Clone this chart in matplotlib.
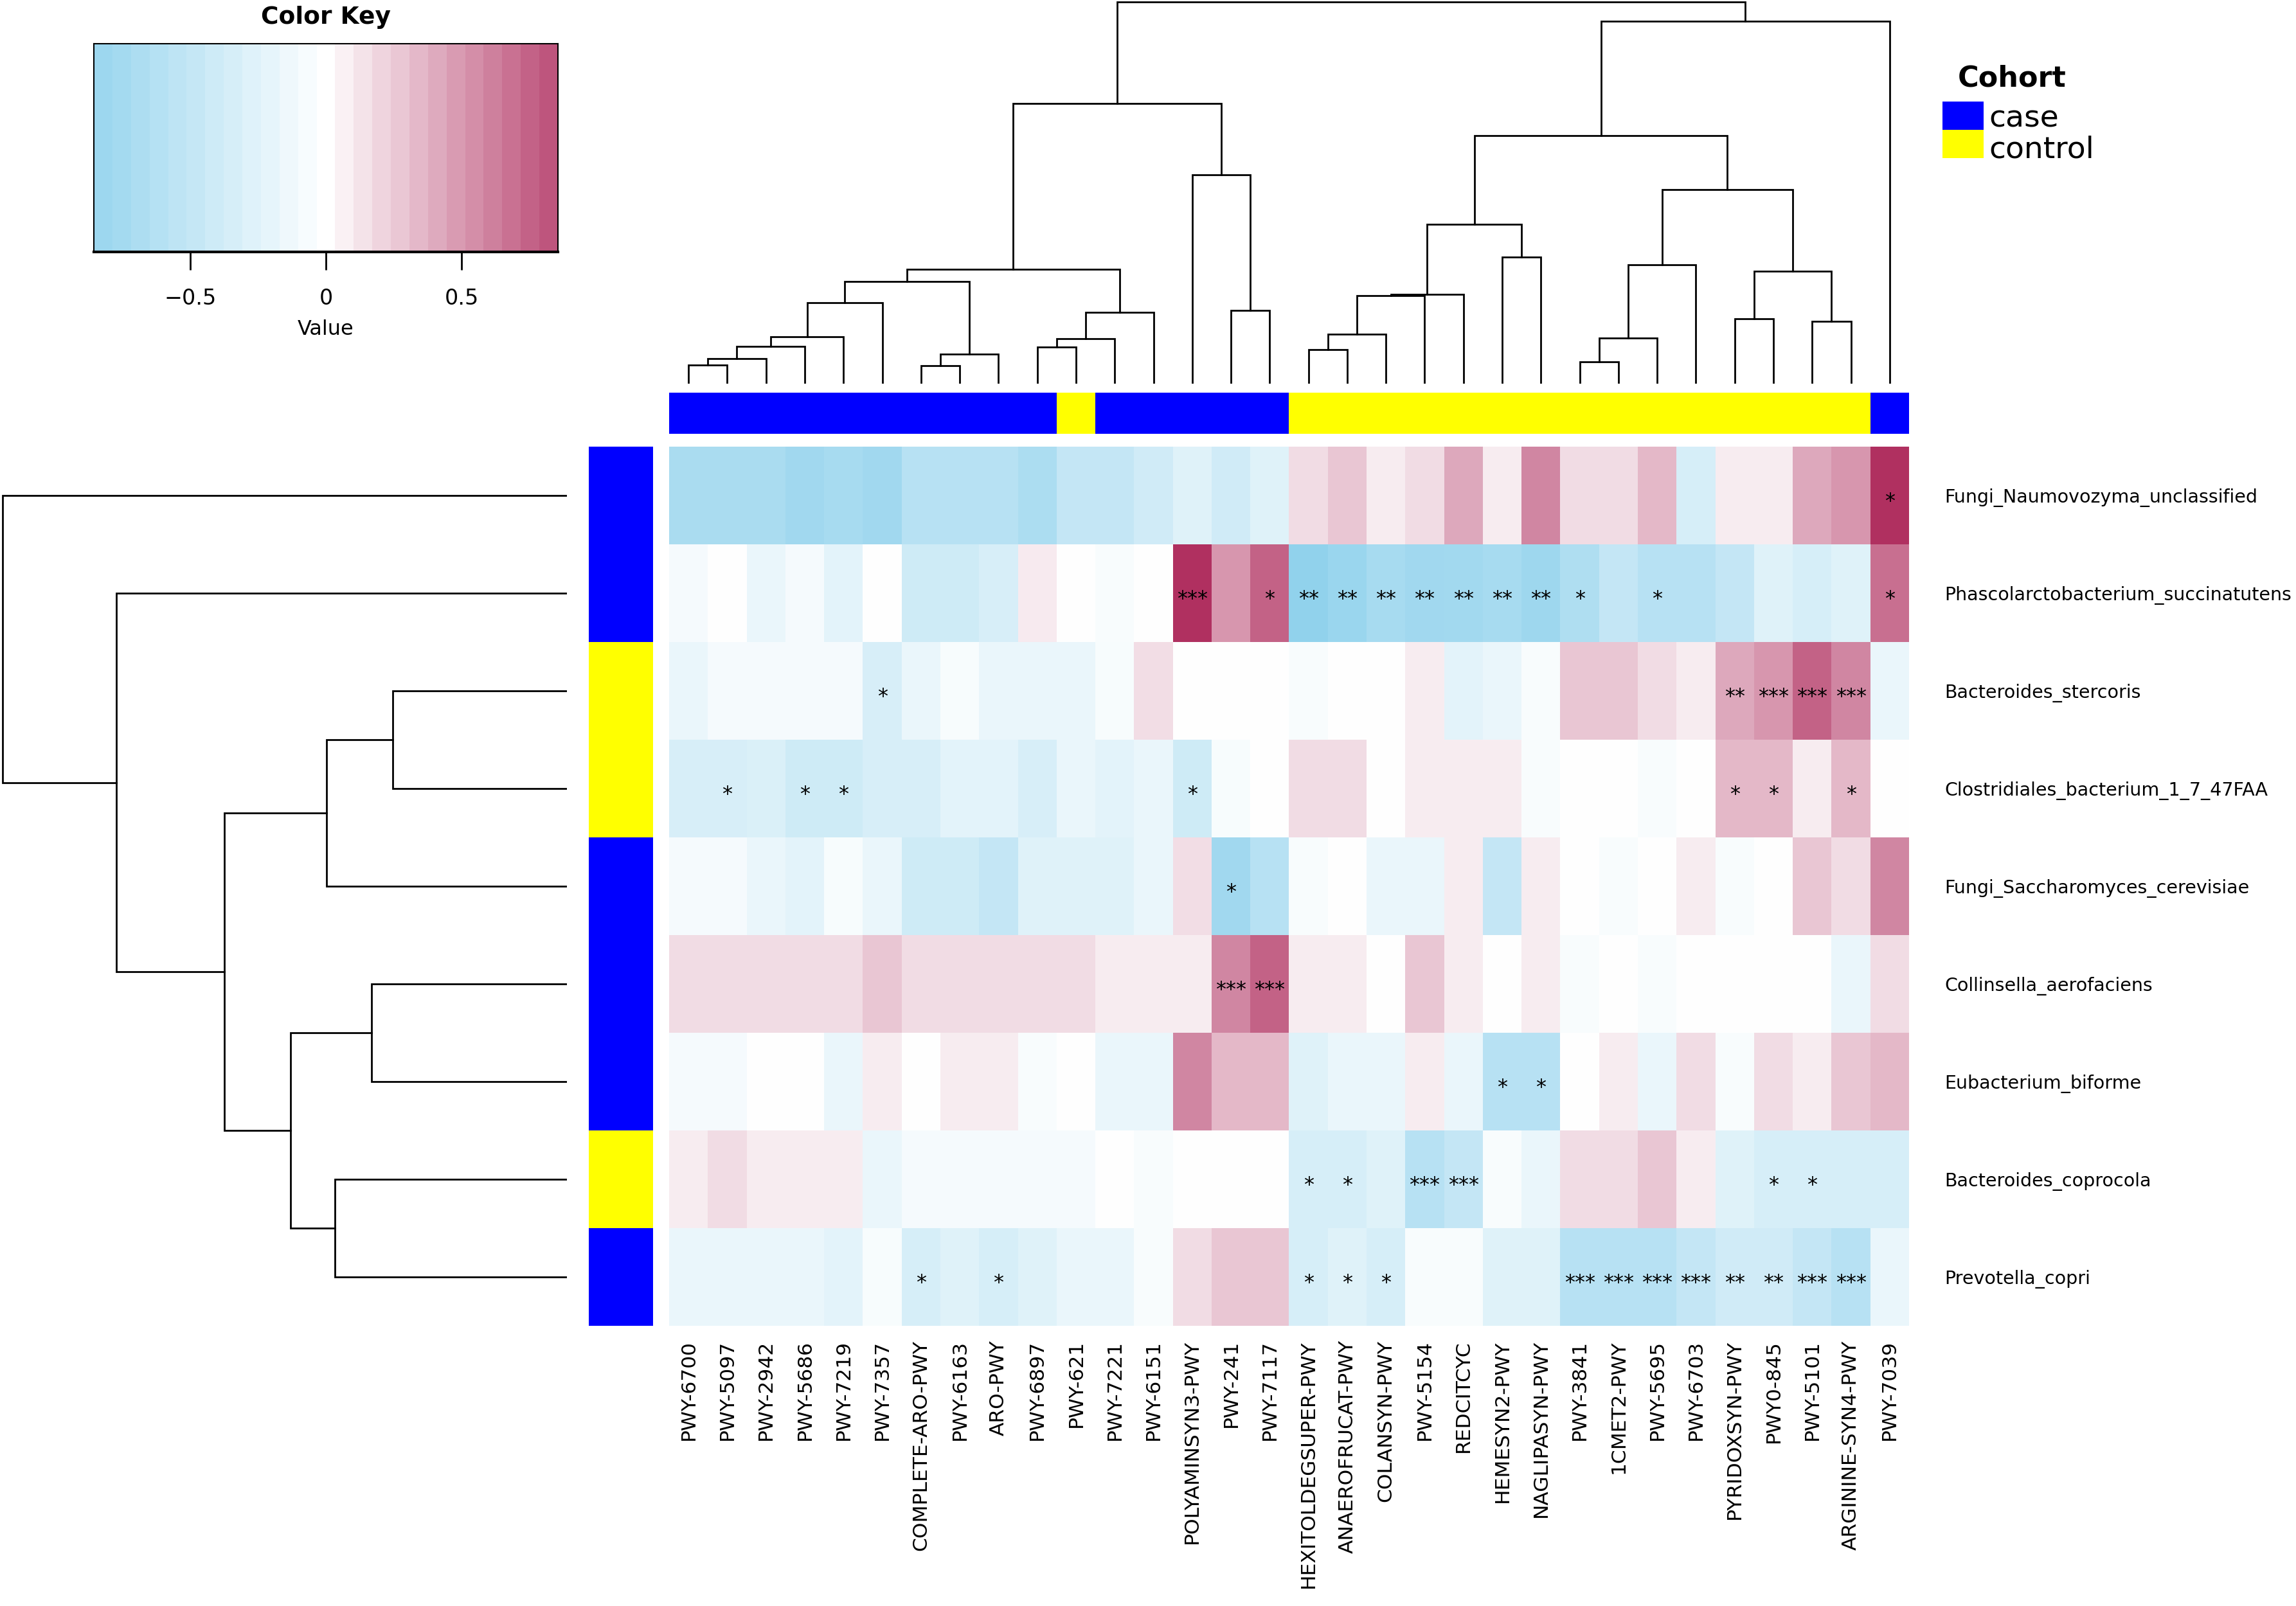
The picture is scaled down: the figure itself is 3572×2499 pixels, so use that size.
import numpy as np
import matplotlib
matplotlib.use('Agg')
import matplotlib.pyplot as plt
from matplotlib.colors import LinearSegmentedColormap, Normalize
from matplotlib.patches import Rectangle

W, H = 3573, 2499

pathways = ['PWY-6700', 'PWY-5097', 'PWY-2942', 'PWY-5686', 'PWY-7219', 'PWY-7357',
            'COMPLETE-ARO-PWY', 'PWY-6163', 'ARO-PWY', 'PWY-6897', 'PWY-621', 'PWY-7221',
            'PWY-6151', 'POLYAMINSYN3-PWY', 'PWY-241', 'PWY-7117', 'HEXITOLDEGSUPER-PWY',
            'ANAEROFRUCAT-PWY', 'COLANSYN-PWY', 'PWY-5154', 'REDCITCYC', 'HEMESYN2-PWY',
            'NAGLIPASYN-PWY', 'PWY-3841', '1CMET2-PWY', 'PWY-5695', 'PWY-6703',
            'PYRIDOXSYN-PWY', 'PWY0-845', 'PWY-5101', 'ARGININE-SYN4-PWY', 'PWY-7039']

taxa = ['Fungi_Naumovozyma_unclassified', 'Phascolarctobacterium_succinatutens',
        'Bacteroides_stercoris', 'Clostridiales_bacterium_1_7_47FAA',
        'Fungi_Saccharomyces_cerevisiae', 'Collinsella_aerofaciens',
        'Eubacterium_biforme', 'Bacteroides_coprocola', 'Prevotella_copri']

col_cohort = ['case'] * 10 + ['control'] + ['case'] * 5 + ['control'] * 15 + ['case']
row_cohort = ['case', 'case', 'control', 'control', 'case', 'case', 'case', 'control', 'case']

values = [
    [-0.70, -0.70, -0.70, -0.78, -0.72, -0.78, -0.59, -0.59, -0.59, -0.68, -0.49, -0.49, -0.39, -0.26, -0.39, -0.26,
     0.17, 0.27, 0.09, 0.17, 0.42, 0.09, 0.58, 0.17, 0.17, 0.34, -0.34, 0.09, 0.09, 0.42, 0.50, 1.00],
    [-0.08, 0.00, -0.17, -0.08, -0.23, 0.00, -0.40, -0.40, -0.33, 0.10, 0.00, -0.05, 0.00, 1.00, 0.50, 0.75,
     -0.91, -0.83, -0.72, -0.78, -0.77, -0.72, -0.80, -0.66, -0.49, -0.59, -0.59, -0.49, -0.26, -0.34, -0.26, 0.69],
    [-0.17, -0.08, -0.08, -0.08, -0.08, -0.33, -0.17, -0.06, -0.17, -0.17, -0.17, -0.06, 0.16, 0.00, 0.00, 0.00,
     -0.05, 0.00, 0.00, 0.09, -0.23, -0.17, -0.05, 0.27, 0.27, 0.17, 0.09, 0.42, 0.50, 0.75, 0.58, -0.17],
    [-0.33, -0.33, -0.30, -0.40, -0.40, -0.33, -0.33, -0.23, -0.23, -0.33, -0.17, -0.23, -0.17, -0.40, -0.06, 0.00,
     0.17, 0.17, 0.00, 0.09, 0.09, 0.09, -0.05, 0.00, 0.00, -0.05, 0.00, 0.34, 0.34, 0.09, 0.34, 0.00],
    [-0.08, -0.08, -0.17, -0.23, -0.06, -0.17, -0.40, -0.40, -0.49, -0.26, -0.26, -0.26, -0.17, 0.16, -0.78, -0.59,
     -0.05, 0.00, -0.17, -0.17, 0.09, -0.49, 0.09, 0.00, -0.05, 0.00, 0.09, -0.05, 0.00, 0.27, 0.17, 0.58],
    [0.17, 0.17, 0.17, 0.17, 0.17, 0.27, 0.17, 0.17, 0.17, 0.17, 0.17, 0.09, 0.09, 0.09, 0.58, 0.75,
     0.09, 0.09, 0.00, 0.27, 0.09, 0.00, 0.09, -0.05, 0.00, -0.05, 0.00, 0.00, 0.00, 0.00, -0.17, 0.17],
    [-0.08, -0.08, 0.00, 0.00, -0.17, 0.09, 0.00, 0.09, 0.09, -0.05, 0.00, -0.17, -0.17, 0.58, 0.34, 0.34,
     -0.26, -0.17, -0.17, 0.09, -0.17, -0.59, -0.59, 0.00, 0.09, -0.17, 0.17, -0.05, 0.17, 0.09, 0.27, 0.34],
    [0.09, 0.17, 0.09, 0.09, 0.09, -0.17, -0.08, -0.08, -0.08, -0.08, -0.08, 0.00, -0.05, 0.00, 0.00, 0.00,
     -0.34, -0.34, -0.26, -0.59, -0.49, -0.05, -0.17, 0.17, 0.17, 0.27, 0.09, -0.26, -0.34, -0.34, -0.34, -0.34],
    [-0.17, -0.17, -0.17, -0.17, -0.23, -0.06, -0.34, -0.26, -0.34, -0.26, -0.17, -0.17, -0.05, 0.17, 0.27, 0.27,
     -0.34, -0.26, -0.34, -0.05, -0.05, -0.26, -0.26, -0.59, -0.59, -0.59, -0.49, -0.39, -0.39, -0.49, -0.59, -0.17],
]

# number of stars per cell
stars = [
    [0, 0, 0, 0, 0, 0, 0, 0, 0, 0, 0, 0, 0, 0, 0, 0, 0, 0, 0, 0, 0, 0, 0, 0, 0, 0, 0, 0, 0, 0, 0, 1],
    [0, 0, 0, 0, 0, 0, 0, 0, 0, 0, 0, 0, 0, 3, 0, 1, 2, 2, 2, 2, 2, 2, 2, 1, 0, 1, 0, 0, 0, 0, 0, 1],
    [0, 0, 0, 0, 0, 1, 0, 0, 0, 0, 0, 0, 0, 0, 0, 0, 0, 0, 0, 0, 0, 0, 0, 0, 0, 0, 0, 2, 3, 3, 3, 0],
    [0, 1, 0, 1, 1, 0, 0, 0, 0, 0, 0, 0, 0, 1, 0, 0, 0, 0, 0, 0, 0, 0, 0, 0, 0, 0, 0, 1, 1, 0, 1, 0],
    [0, 0, 0, 0, 0, 0, 0, 0, 0, 0, 0, 0, 0, 0, 1, 0, 0, 0, 0, 0, 0, 0, 0, 0, 0, 0, 0, 0, 0, 0, 0, 0],
    [0, 0, 0, 0, 0, 0, 0, 0, 0, 0, 0, 0, 0, 0, 3, 3, 0, 0, 0, 0, 0, 0, 0, 0, 0, 0, 0, 0, 0, 0, 0, 0],
    [0, 0, 0, 0, 0, 0, 0, 0, 0, 0, 0, 0, 0, 0, 0, 0, 0, 0, 0, 0, 0, 1, 1, 0, 0, 0, 0, 0, 0, 0, 0, 0],
    [0, 0, 0, 0, 0, 0, 0, 0, 0, 0, 0, 0, 0, 0, 0, 0, 1, 1, 0, 3, 3, 0, 0, 0, 0, 0, 0, 0, 1, 1, 0, 0],
    [0, 0, 0, 0, 0, 0, 1, 0, 1, 0, 0, 0, 0, 0, 0, 0, 1, 1, 1, 0, 0, 0, 0, 3, 3, 3, 3, 2, 2, 3, 3, 0],
]

# dendrogram merges: (left node, right node, height); leaves are 0..n-1
col_merges = [(0, 1, 65), (32, 2, 88), (33, 3, 130), (34, 4, 163), (35, 5, 283),
              (6, 7, 63), (37, 8, 103), (36, 38, 357), (9, 10, 128), (40, 11, 156),
              (41, 12, 248), (39, 42, 398), (14, 15, 255), (13, 44, 728), (43, 45, 977),
              (16, 17, 118), (47, 18, 172), (48, 19, 307), (49, 20, 312), (21, 22, 440),
              (50, 51, 555), (23, 24, 75), (53, 25, 158), (54, 26, 415), (27, 28, 225),
              (29, 30, 218), (56, 57, 391), (55, 58, 677), (52, 59, 865), (60, 31, 1263),
              (46, 61, 1330)]
row_merges = [(2, 3, 425), (9, 4, 586), (5, 6, 477), (7, 8, 566), (11, 12, 674),
              (10, 13, 835), (1, 14, 1098), (0, 15, 1376)]

cohort_colors = {'case': '#0000FF', 'control': '#FFFF00'}

cmap = LinearSegmentedColormap.from_list('sw', ['#87CEEB', '#FFFFFF', '#B03060'])
norm = Normalize(vmin=-1, vmax=1)

plt.rcParams['font.family'] = ['DejaVu Sans']
fig = plt.figure(figsize=(W / 100, H / 100), dpi=100)


def ax_px(x0, y0, x1, y1):
    return fig.add_axes([x0 / W, 1 - y1 / H, (x1 - x0) / W, (y1 - y0) / H])


def draw_dendro(ax, merges, n, vertical=True):
    pos = {i: float(i) for i in range(n)}
    hgt = {i: 0.0 for i in range(n)}
    for k, (a, b, h) in enumerate(merges):
        xa, xb = pos[a], pos[b]
        if vertical:
            ax.plot([xa, xa, xb, xb], [hgt[a], h, h, hgt[b]], color='black', lw=2.0,
                    solid_joinstyle='miter')
        else:
            ax.plot([hgt[a], h, h, hgt[b]], [xa, xa, xb, xb], color='black', lw=2.0,
                    solid_joinstyle='miter')
        pos[n + k] = (xa + xb) / 2
        hgt[n + k] = h


data = np.array(values)
nr, nc = data.shape

# main heatmap
ax = ax_px(1041, 695, 2970, 2063)
ax.imshow(data, cmap=cmap, norm=norm, aspect='auto', interpolation='nearest')
for i in range(nr):
    for j in range(nc):
        if stars[i][j]:
            ax.text(j, i + 0.12, '*' * stars[i][j], ha='center', va='baseline',
                    fontsize=23, color='black')
ax.set_xlim(-0.5, nc - 0.5)
ax.set_ylim(nr - 0.5, -0.5)
ax.set_xticks(range(nc))
ax.set_xticklabels(pathways, rotation=90, fontsize=22.5, va='top')
ax.set_yticks(range(nr))
ax.set_yticklabels(taxa, fontsize=20.5)
ax.yaxis.tick_right()
ax.tick_params(axis='both', length=0)
ax.tick_params(axis='x', pad=16)
ax.tick_params(axis='y', pad=40)
for s in ax.spines.values():
    s.set_visible(False)

# column cohort bar
axc = ax_px(1041, 611, 2970, 675)
axc.imshow([[matplotlib.colors.to_rgb(cohort_colors[c]) for c in col_cohort]],
           aspect='auto', interpolation='nearest')
axc.set_axis_off()

# row cohort bar
axr = ax_px(916, 695, 1016, 2063)
axr.imshow([[matplotlib.colors.to_rgb(cohort_colors[c])] for c in row_cohort],
           aspect='auto', interpolation='nearest')
axr.set_axis_off()

# column dendrogram
axd = ax_px(1041, 2, 2970, 597)
draw_dendro(axd, col_merges, nc, vertical=True)
axd.set_xlim(-0.5, nc - 0.5)
axd.set_ylim(0, 1332)
axd.set_axis_off()

# row dendrogram
axrd = ax_px(0, 695, 882, 2063)
draw_dendro(axrd, row_merges, nr, vertical=False)
axrd.set_xlim(1382, 0)
axrd.set_ylim(nr - 0.5, -0.5)
axrd.set_axis_off()

# colour key
axk = ax_px(146, 68, 868, 392)
kmax = 0.854
edges = np.linspace(-kmax, kmax, 26)
mids = (edges[:-1] + edges[1:]) / 2
axk.pcolormesh(edges, [0, 1], mids[np.newaxis, :], cmap=cmap, norm=norm)
axk.set_xlim(-kmax, kmax)
axk.set_ylim(0, 1)
axk.set_yticks([])
axk.set_xticks([-0.5, 0, 0.5])
axk.set_xticklabels(['\u22120.5', '0', '0.5'], fontsize=24)
axk.tick_params(axis='x', length=20, width=2, pad=20)
axk.set_xlabel('Value', fontsize=23, labelpad=12)
axk.set_title('Color Key', fontsize=27, fontweight='bold', pad=22)
for s in axk.spines.values():
    s.set_linewidth(1.5)
axk.spines['bottom'].set_linewidth(3)

# cohort legend
axl = ax_px(3000, 80, 3573, 270)
axl.set_xlim(3000, 3573)
axl.set_ylim(270, 80)
axl.set_axis_off()
axl.text(3130, 122, 'Cohort', fontsize=32, fontweight='bold', ha='center', va='center')
for k, lab in enumerate(['case', 'control']):
    axl.add_patch(Rectangle((3022, 158 + 44 * k), 64, 44, facecolor=cohort_colors[lab],
                            edgecolor='none'))
    axl.text(3094, 198 + 48 * k, lab, fontsize=34, ha='left', va='baseline')

fig.savefig('out.png', dpi=100)
